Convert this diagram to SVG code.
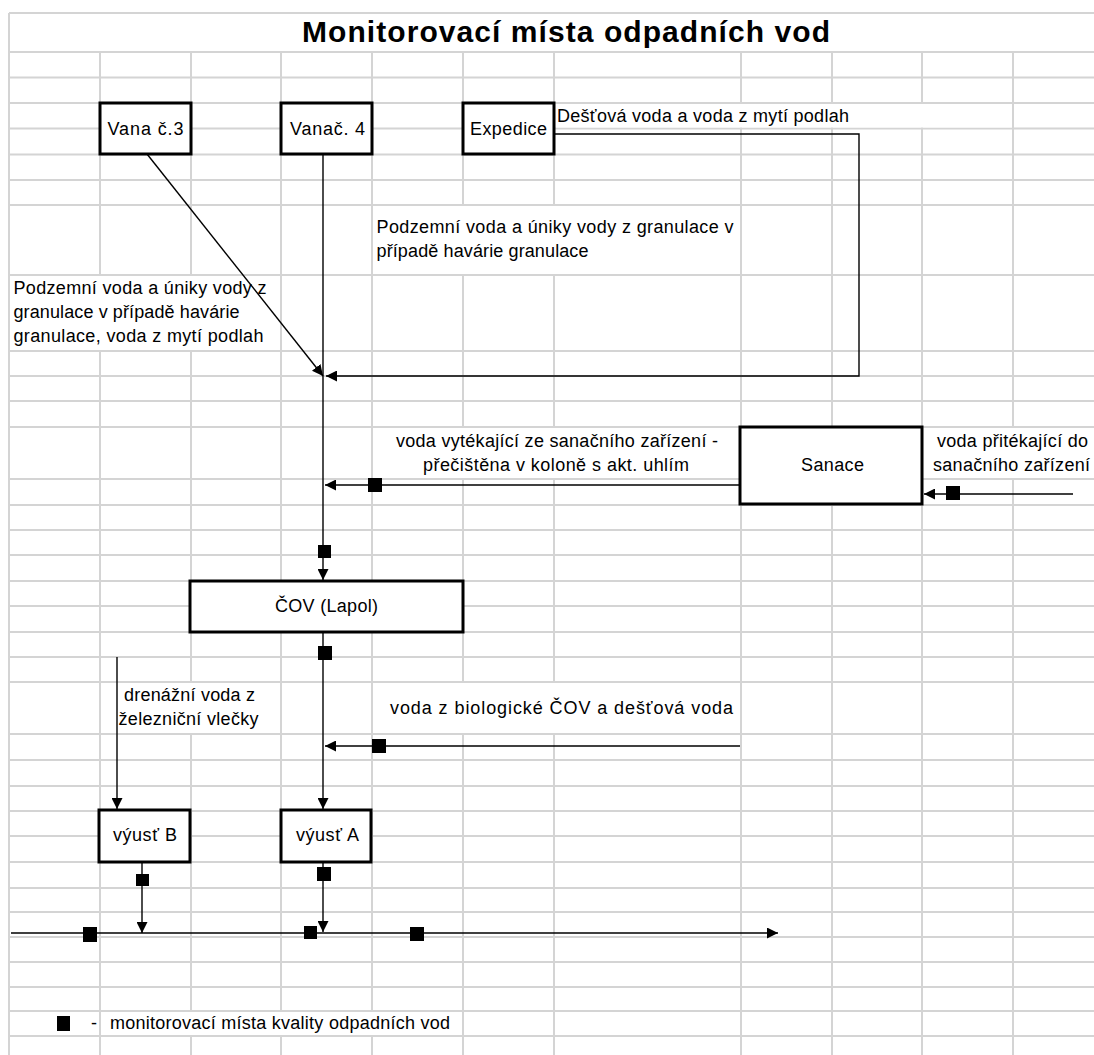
<svg xmlns="http://www.w3.org/2000/svg" width="1094" height="1055" viewBox="0 0 1094 1055">
<style>
.grid{stroke:#d4d4d4;stroke-width:2;fill:none}
.mask{fill:#fff;stroke:none}
.box{fill:#fff;stroke:#000;stroke-width:3}
.t{font-family:"Liberation Sans",Arial,sans-serif;font-size:18px;fill:#000}
.title{font-family:"Liberation Sans",Arial,sans-serif;font-size:30px;font-weight:bold;fill:#000}
.ln{stroke:#000;stroke-width:1.4;fill:none}
.arr{marker-end:url(#ah)}
.mp{fill:#000}
</style>
<defs>
<marker id="ah" markerUnits="userSpaceOnUse" markerWidth="12" markerHeight="11" refX="11" refY="5.5" orient="auto">
<path d="M0,0 L11,5.5 L0,11 z" fill="#000"/>
</marker>
</defs>
<rect width="1094" height="1055" fill="#fff"/>
<g id="grid">
<path class="grid" d="M9 13V1055 M100 52V1055 M191 52V1055 M281 52V1055 M372 52V1055 M463 52V1055 M554 52V1055 M741 52V1055 M832 52V1055 M922 52V1055 M1013 52V1055"/>
<path class="grid" d="M9 13H1094 M9 52H1094 M9 77.5H1094 M9 103H1094 M9 128.5H1094 M9 154.5H1094 M9 180H1094 M9 205H1094 M9 275H1094 M9 351H1094 M9 376H1094 M9 401H1094 M9 427H1094 M9 479H1094 M9 505H1094 M9 530H1094 M9 555H1094 M9 581H1094 M9 606H1094 M9 632H1094 M9 657H1094 M9 682H1094 M9 734H1094 M9 760H1094 M9 786H1094 M9 811H1094 M9 836H1094 M9 862H1094 M9 888H1094 M9 912H1094 M9 937H1094 M9 962H1094 M9 987H1094 M9 1011H1094 M9 1036H1094"/>
<rect class="mask" x="556" y="104" width="456" height="23.5"/>
<rect class="mask" x="374" y="206" width="366" height="68"/>
<rect class="mask" x="10" y="276" width="270" height="74"/>
<rect class="mask" x="374" y="428" width="366" height="50"/>
<rect class="mask" x="924" y="428" width="170" height="50"/>
<rect class="mask" x="102" y="683" width="178" height="50"/>
<rect class="mask" x="374" y="683" width="366" height="50"/>
<rect class="mask" x="102" y="1012" width="360" height="23"/>
</g>
<text class="title" x="302" y="42" textLength="528" lengthAdjust="spacing">Monitorovací místa odpadních vod</text>
<g id="connectors">
<line class="ln arr" x1="147" y1="154" x2="323" y2="376"/>
<line class="ln arr" x1="323" y1="155" x2="323" y2="580"/>
<polyline class="ln arr" points="555,134 859,134 859,376 326,376"/>
<line class="ln arr" x1="740" y1="485" x2="325" y2="485"/>
<line class="ln arr" x1="1073" y1="494" x2="924" y2="494"/>
<line class="ln arr" x1="323" y1="633" x2="323" y2="809"/>
<line class="ln arr" x1="740" y1="746" x2="325" y2="746"/>
<line class="ln arr" x1="117" y1="657" x2="117" y2="809"/>
<line class="ln arr" x1="142" y1="863" x2="142" y2="933"/>
<line class="ln arr" x1="323" y1="863" x2="323" y2="932"/>
<line class="ln arr" x1="11" y1="933" x2="778" y2="933"/>
</g>
<g id="monitoring-points">
<rect class="mp" x="318" y="545" width="13" height="13"/>
<rect class="mp" x="368" y="478" width="14" height="14"/>
<rect class="mp" x="946" y="486" width="14" height="14"/>
<rect class="mp" x="318" y="646" width="14" height="14"/>
<rect class="mp" x="372" y="739" width="14" height="14"/>
<rect class="mp" x="136" y="874" width="13" height="12"/>
<rect class="mp" x="317" y="867" width="14" height="14"/>
<rect class="mp" x="83" y="927" width="14" height="15"/>
<rect class="mp" x="304" y="926" width="13" height="13"/>
<rect class="mp" x="410" y="927" width="14" height="14"/>
</g>
<g id="vana3">
<rect class="box" x="100" y="103" width="91" height="51"/>
<text class="t" x="107.5" y="135" textLength="76" lengthAdjust="spacing">Vana č.3</text>
</g>
<g id="vana4">
<rect class="box" x="281" y="103" width="91" height="51"/>
<text class="t" x="290" y="135" textLength="75" lengthAdjust="spacing">Vanač. 4</text>
</g>
<g id="expedice">
<rect class="box" x="463" y="103" width="91" height="51"/>
<text class="t" x="470" y="135" textLength="77" lengthAdjust="spacing">Expedice</text>
</g>
<g id="sanace">
<rect class="box" x="740" y="427" width="182" height="77"/>
<text class="t" x="801" y="471" textLength="63" lengthAdjust="spacing">Sanace</text>
</g>
<g id="cov">
<rect class="box" x="190" y="581" width="273" height="51"/>
<text class="t" x="275" y="612" textLength="103" lengthAdjust="spacing">ČOV (Lapol)</text>
</g>
<g id="vyust-b">
<rect class="box" x="99" y="810" width="91" height="52"/>
<text class="t" x="113" y="841" textLength="64" lengthAdjust="spacing">výusť B</text>
</g>
<g id="vyust-a">
<rect class="box" x="281" y="810" width="90" height="52"/>
<text class="t" x="296" y="841" textLength="63" lengthAdjust="spacing">výusť A</text>
</g>
<g id="labels">
<text class="t" x="557" y="122" textLength="292" lengthAdjust="spacing">Dešťová voda a voda z mytí podlah</text>
<text class="t" x="376.5" y="233" textLength="357" lengthAdjust="spacing">Podzemní voda a úniky vody z granulace v</text>
<text class="t" x="376.5" y="257" textLength="212" lengthAdjust="spacing">případě havárie granulace</text>
<text class="t" x="13.5" y="294" textLength="253" lengthAdjust="spacing">Podzemní voda a úniky vody z</text>
<text class="t" x="13.5" y="318" textLength="226" lengthAdjust="spacing">granulace v případě havárie</text>
<text class="t" x="13.5" y="342" textLength="250" lengthAdjust="spacing">granulace, voda z mytí podlah</text>
<text class="t" x="396" y="447" textLength="322" lengthAdjust="spacing">voda vytékající ze sanačního zařízení -</text>
<text class="t" x="423" y="471" textLength="266" lengthAdjust="spacing">přečištěna v koloně s akt. uhlím</text>
<text class="t" x="937" y="447" textLength="151" lengthAdjust="spacing">voda přitékající do</text>
<text class="t" x="933" y="471" textLength="157" lengthAdjust="spacing">sanačního zařízení</text>
<text class="t" x="124" y="701" textLength="131" lengthAdjust="spacing">drenážní voda z</text>
<text class="t" x="118.5" y="725" textLength="140" lengthAdjust="spacing">železniční vlečky</text>
<text class="t" x="390" y="714" textLength="343" lengthAdjust="spacing">voda z biologické ČOV a dešťová voda</text>
</g>
<g id="legend">
<rect class="mp" x="57" y="1016" width="13" height="15"/>
<text class="t" x="91" y="1029">-</text>
<text class="t" x="110" y="1029" textLength="340" lengthAdjust="spacing">monitorovací místa kvality odpadních vod</text>
</g>
</svg>
